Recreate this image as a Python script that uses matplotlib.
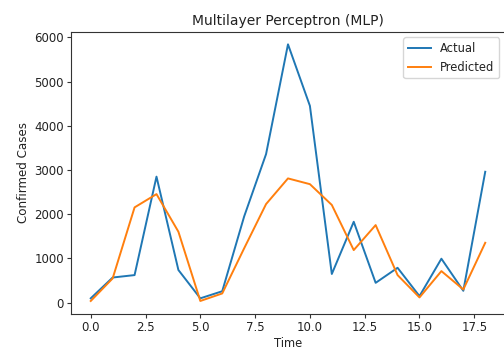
import numpy as np
import matplotlib
matplotlib.use("Agg")
import matplotlib.pyplot as plt

# --- data ---
time = list(range(19))
actual = [100, 570, 625, 2850, 740, 100, 260, 1950, 3360, 5840,
          4450, 650, 1830, 450, 790, 150, 995, 270, 2960]
predicted = [40, 550, 2155, 2455, 1605, 40, 210, 1230, 2230, 2810,
             2680, 2210, 1190, 1755, 625, 120, 715, 300, 1355]

fig = plt.figure(figsize=(5.04, 3.52), dpi=100)
ax = fig.add_axes([0.1409, 0.1085, 0.861, 0.802])

ax.plot(time, actual, color='#1f77b4', linewidth=1.4, label='Actual')
ax.plot(time, predicted, color='#ff7f0e', linewidth=1.4, label='Predicted')

ax.set_title('Multilayer Perceptron (MLP)', fontsize=10, pad=5, color='#222222')
ax.set_xlabel('Time', fontsize=8.3, labelpad=2, color='#222222')
ax.set_ylabel('Confirmed Cases', fontsize=8.6, labelpad=3, color='#222222')
ax.tick_params(labelsize=8.5, length=3, pad=2, labelcolor='#222222', color='#333333')
for s in ax.spines.values():
    s.set_color('#333333')
ax.set_yticks([0, 1000, 2000, 3000, 4000, 5000, 6000])
leg = ax.legend(fontsize=8.3, loc='upper right')
for t in leg.get_texts():
    t.set_color('#222222')

fig.savefig('out.png', dpi=100)
